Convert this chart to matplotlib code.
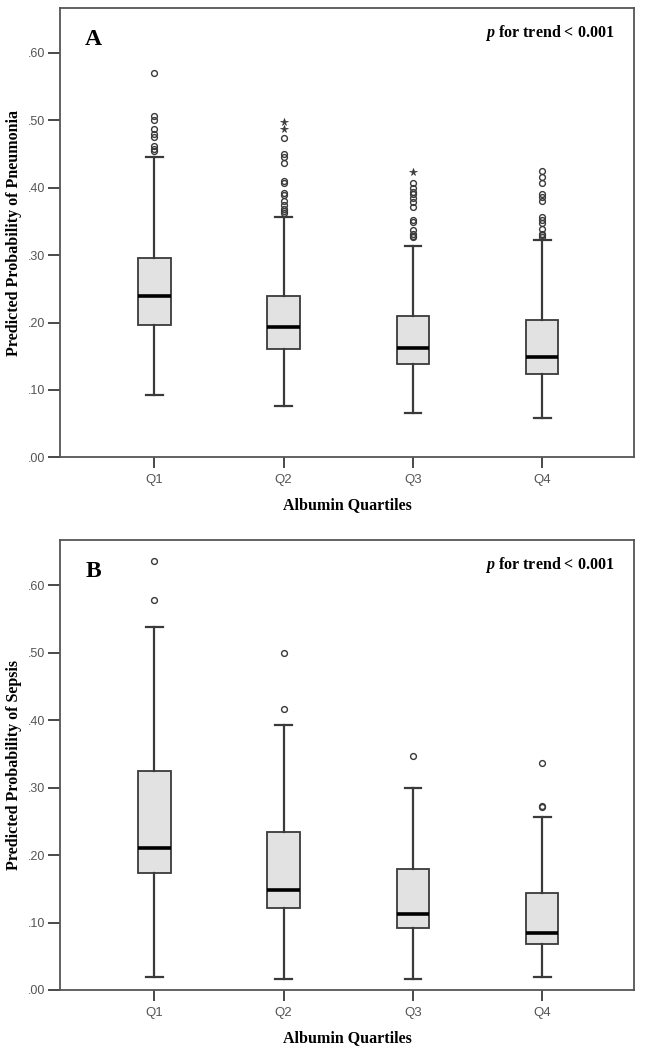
import matplotlib
matplotlib.use("Agg")
import matplotlib.pyplot as plt

plt.rcParams["mathtext.fontset"] = "custom"
plt.rcParams["mathtext.it"] = "Liberation Serif:italic:bold"
plt.rcParams["mathtext.rm"] = "Liberation Serif:bold"
plt.rcParams["mathtext.bf"] = "Liberation Serif:bold"

categories = ["Q1", "Q2", "Q3", "Q4"]
yticks = [0.0, 0.1, 0.2, 0.3, 0.4, 0.5, 0.6]
ytick_labels = [".00", ".10", ".20", ".30", ".40", ".50", ".60"]

# Panel A: Pneumonia
a_whislo = [0.093, 0.076, 0.065, 0.059]
a_q1 = [0.196, 0.161, 0.139, 0.123]
a_med = [0.240, 0.193, 0.162, 0.149]
a_q3 = [0.296, 0.240, 0.209, 0.203]
a_whishi = [0.445, 0.356, 0.314, 0.323]
a_fliers = [
    [0.570, 0.506, 0.500, 0.487, 0.480, 0.476, 0.462, 0.458, 0.455],
    [0.474, 0.450, 0.446, 0.436, 0.410, 0.407, 0.392, 0.389, 0.381, 0.374, 0.369, 0.365, 0.362],
    [0.407, 0.399, 0.394, 0.390, 0.385, 0.379, 0.372, 0.352, 0.349, 0.337, 0.332, 0.329, 0.327],
    [0.425, 0.416, 0.407, 0.391, 0.386, 0.381, 0.356, 0.352, 0.348, 0.339, 0.332, 0.330, 0.327],
]
a_extremes = [[], [0.497, 0.487], [0.423], []]

# Panel B: Sepsis
b_whislo = [0.020, 0.016, 0.017, 0.020]
b_q1 = [0.174, 0.122, 0.092, 0.068]
b_med = [0.211, 0.148, 0.112, 0.084]
b_q3 = [0.325, 0.234, 0.179, 0.143]
b_whishi = [0.538, 0.392, 0.300, 0.256]
b_fliers = [
    [0.636, 0.578],
    [0.500, 0.417],
    [0.347],
    [0.336, 0.273, 0.271],
]
b_extremes = [[], [], [], []]

panels = [
    ("A", "Predicted Probability of Pneumonia", a_whislo, a_q1, a_med, a_q3, a_whishi, a_fliers, a_extremes),
    ("B", "Predicted Probability of Sepsis", b_whislo, b_q1, b_med, b_q3, b_whishi, b_fliers, b_extremes),
]

serif = ["Liberation Serif", "DejaVu Serif"]
sans = ["Liberation Sans", "DejaVu Sans"]
edge = "#3a3a3a"
tickc = "#555555"

fig = plt.figure(figsize=(6.46, 10.5), dpi=100)
rects = [
    [60 / 646, 1 - 457.3 / 1050, 574 / 646, 449.3 / 1050],
    [60 / 646, 1 - 990 / 1050, 574 / 646, 450 / 1050],
]

for rect, (letter, ylabel, wlo, q1, med, q3, whi, fl, ex) in zip(rects, panels):
    ax = fig.add_axes(rect)
    stats = []
    for i in range(len(categories)):
        stats.append(dict(whislo=wlo[i], q1=q1[i], med=med[i], q3=q3[i],
                          whishi=whi[i], fliers=fl[i], label=categories[i]))
    positions = list(range(1, len(categories) + 1))
    ax.bxp(stats, positions=positions, widths=0.25, patch_artist=True,
           showfliers=True,
           boxprops=dict(facecolor="#e2e2e2", edgecolor=edge, linewidth=1.3),
           medianprops=dict(color="black", linewidth=2.6),
           whiskerprops=dict(color=edge, linewidth=1.6),
           capprops=dict(color=edge, linewidth=1.6),
           capwidths=0.13,
           flierprops=dict(marker="o", markersize=4.2, markerfacecolor="none",
                           markeredgecolor=edge, markeredgewidth=1.0, linestyle="none"))
    for p, vals in zip(positions, ex):
        if vals:
            ax.plot([p] * len(vals), vals, linestyle="none", marker="*",
                    markersize=5.5, color=edge, markeredgewidth=0.5)
    ax.set_xlim(0.27, 4.71)
    ax.set_ylim(0, 0.6667)
    ax.set_yticks(yticks)
    ax.set_yticklabels(ytick_labels, fontfamily=sans, fontsize=9, color=tickc)
    ax.set_xticks(positions)
    ax.set_xticklabels(categories, fontfamily=sans, fontsize=9.5, color=tickc)
    ax.tick_params(axis="y", length=9, width=1.3, color=edge, pad=1.5)
    ax.tick_params(axis="x", length=8, width=1.3, color=edge, pad=4)
    for s in ax.spines.values():
        s.set_color("#555555")
        s.set_linewidth(1.3)
    ax.set_ylabel(ylabel, fontfamily=serif, fontweight="bold", fontsize=11.5, labelpad=4)
    ax.set_xlabel("Albumin Quartiles", fontfamily=serif, fontweight="bold", fontsize=11.5, labelpad=8)
    ax.text(0.058, 0.930, letter, transform=ax.transAxes, fontfamily=serif,
            fontweight="bold", fontsize=17, va="center", ha="center")
    ax.text(0.965, 0.945, r"$p$ for trend < 0.001", transform=ax.transAxes,
            fontfamily=serif, fontweight="bold", fontsize=11.5, va="center", ha="right")

fig.savefig("out.png", dpi=100)
